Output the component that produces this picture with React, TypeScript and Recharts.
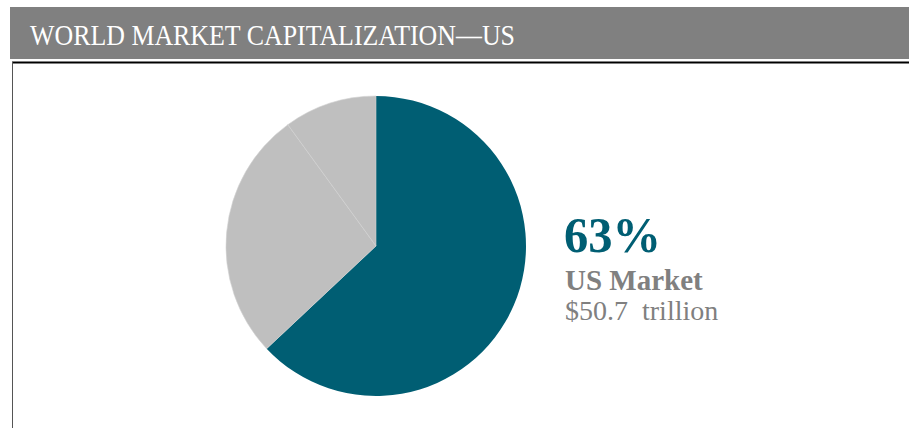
import { PieChart, Pie, Cell } from 'recharts';

const segments = ['US Market', 'Developed ex US', 'Emerging Markets'];
const shares = [63, 27, 10];
const colors = ['#005e73', '#bfbfbf', '#bfbfbf'];

const title = 'WORLD MARKET CAPITALIZATION—US';
const headline = '63%';
const marketLabel = 'US Market';
const marketValue = '$50.7  trillion';

const data = segments.map((name, i) => ({ name, value: shares[i] }));

export default function App() {
  return (
    <div style={{ position: 'absolute', left: 0, top: 0, width: 909, height: 428, background: '#fff' }}>
      <svg width={909} height={428} style={{ position: 'absolute', left: 0, top: 0 }}>
        <rect x={10} y={7} width={899} height={52} fill="#808080" />
        <text
          x={30}
          y={45}
          fill="#fff"
          fontFamily="'Liberation Serif', 'Times New Roman', serif"
          fontSize={28.5}
          textLength={485}
          lengthAdjust="spacingAndGlyphs"
        >
          {title}
        </text>
        <line x1={12} y1={62.5} x2={909} y2={62.5} stroke="#000" strokeWidth={2} />
        <line x1={12.5} y1={62} x2={12.5} y2={428} stroke="#555" strokeWidth={1} />
      </svg>
      <div style={{ position: 'absolute', left: 0, top: 0 }}>
        <PieChart width={909} height={428} margin={{ top: 0, right: 0, bottom: 0, left: 0 }}>
          <Pie
            data={data}
            dataKey="value"
            nameKey="name"
            cx={376}
            cy={246}
            outerRadius={150}
            startAngle={90}
            endAngle={-270}
            isAnimationActive={false}
          >
            {data.map((d, i) => (
              <Cell
                key={d.name}
                fill={colors[i]}
                stroke={i === 0 ? colors[i] : '#d2d2d2'}
                strokeWidth={i === 0 ? 0 : 0.6}
              />
            ))}
          </Pie>
        </PieChart>
      </div>
      <svg width={909} height={428} style={{ position: 'absolute', left: 0, top: 0, pointerEvents: 'none' }}>
        <text
          x={564}
          y={252}
          fill="#005e73"
          fontFamily="'Liberation Serif', serif"
          fontWeight="bold"
          fontSize={51}
          textLength={97}
          lengthAdjust="spacingAndGlyphs"
        >
          {headline}
        </text>
        <text x={565} y={290} fill="#808080" fontFamily="'Liberation Serif', serif" fontWeight="bold" fontSize={29}>
          {marketLabel}
        </text>
        <text
          x={565}
          y={320}
          fill="#808080"
          fontFamily="'Liberation Serif', serif"
          fontSize={28}
          style={{ whiteSpace: 'pre' }}
        >
          {marketValue}
        </text>
      </svg>
    </div>
  );
}
